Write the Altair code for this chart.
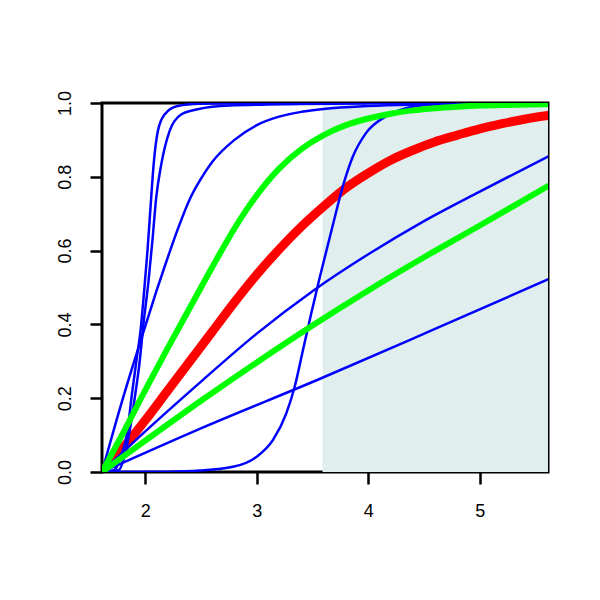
import altair as alt
import pandas as pd

# ---- data ----
x_ticks = [2, 3, 4, 5]
y_ticks = [0.0, 0.2, 0.4, 0.6, 0.8, 1.0]
x_range = [1.612, 5.612]
shade_start, shade_end = 3.59, 5.612

b1_x = [1.612, 1.72, 1.78, 1.84, 1.88, 1.92, 1.96, 1.99, 2.02, 2.053, 2.075, 2.113, 2.173, 2.29, 2.49, 3.0, 5.612]
b1_y = [0, 0.005, 0.04, 0.11, 0.21, 0.30, 0.39, 0.49, 0.60, 0.743, 0.833, 0.924, 0.969, 0.992, 0.998, 1.0, 1.0]

b2_x = [1.612, 1.76, 1.82, 1.87, 1.91, 1.95, 1.98, 2.03, 2.065, 2.098, 2.143, 2.218, 2.322, 2.471, 2.758, 3.385, 4.0, 5.612]
b2_y = [0, 0.005, 0.05, 0.13, 0.21, 0.30, 0.39, 0.52, 0.63, 0.743, 0.833, 0.924, 0.969, 0.983, 0.993, 0.997, 0.999, 1.0]

b3_x = [1.612, 1.8, 2.0, 2.1, 2.2, 2.3, 2.4, 2.5, 2.6, 2.8, 3.0, 3.2, 3.4, 3.6, 4.0, 4.5, 5.0, 5.612]
b3_y = [0, 0.2, 0.395, 0.49, 0.58, 0.665, 0.74, 0.795, 0.84, 0.9, 0.94, 0.963, 0.976, 0.984, 0.992, 0.996, 0.998, 0.999]

b4_x = [1.612, 2.2, 2.49, 2.787, 2.997, 3.146, 3.265, 3.34, 3.414, 3.489, 3.563, 3.683, 3.772, 3.862, 3.981, 4.16, 4.34, 4.575, 5.0, 5.612]
b4_y = [0, 0.001, 0.004, 0.014, 0.041, 0.087, 0.159, 0.231, 0.33, 0.43, 0.525, 0.67, 0.774, 0.855, 0.919, 0.964, 0.986, 0.995, 0.999, 1.0]

b5_x = [1.612, 2.0, 2.5, 3.0, 3.5, 4.0, 4.5, 5.0, 5.612]
b5_y = [0, 0.11, 0.245, 0.375, 0.49, 0.59, 0.68, 0.76, 0.855]

b6_x = [1.612, 2.489, 3.563, 4.578, 5.612]
b6_y = [0, 0.117, 0.252, 0.385, 0.522]

g1_x = [1.612, 1.8, 2.0, 2.2, 2.4, 2.6, 2.8, 3.0, 3.2, 3.4, 3.6, 3.8, 4.0, 4.2, 4.4, 4.6, 4.8, 5.0, 5.3, 5.612]
g1_y = [0, 0.105, 0.222, 0.335, 0.445, 0.555, 0.66, 0.75, 0.822, 0.875, 0.913, 0.94, 0.958, 0.971, 0.98, 0.986, 0.99, 0.993, 0.995, 0.997]

g2_x = [1.612, 2.0, 2.5, 3.0, 3.5, 4.0, 4.5, 5.0, 5.612]
g2_y = [0, 0.085, 0.193, 0.297, 0.397, 0.492, 0.582, 0.668, 0.775]

r_x = [1.612, 1.8, 2.0, 2.2, 2.4, 2.6, 2.8, 3.0, 3.2, 3.4, 3.6, 3.8, 4.0, 4.2, 4.4, 4.6, 4.8, 5.0, 5.2, 5.4, 5.612]
r_y = [0, 0.065, 0.14, 0.22, 0.30, 0.38, 0.46, 0.535, 0.603, 0.665, 0.72, 0.77, 0.81, 0.845, 0.872, 0.895, 0.913, 0.93, 0.944, 0.956, 0.966]


def frame(name, xs, ys):
    return pd.DataFrame({"x": xs, "y": ys, "curve": name})


blue_df = pd.concat([
    frame("b1", b1_x, b1_y), frame("b2", b2_x, b2_y), frame("b3", b3_x, b3_y),
    frame("b4", b4_x, b4_y), frame("b5", b5_x, b5_y), frame("b6", b6_x, b6_y),
])
green_df = pd.concat([frame("g1", g1_x, g1_y), frame("g2", g2_x, g2_y)])
red_df = frame("r", r_x, r_y)
shade_df = pd.DataFrame({"x": [shade_start], "x2": [shade_end], "y": [0.0], "y2": [1.0]})

FONT = "Liberation Sans"
xs = alt.Scale(domain=x_range, nice=False, zero=False)
ys = alt.Scale(domain=[0, 1], nice=False, zero=False)
x_axis = alt.Axis(values=x_ticks, format="d", domain=False, grid=False, tickSize=12,
                  tickWidth=2.5, tickColor="black", labelFont=FONT, labelFontSize=18,
                  labelColor="black", labelPadding=18, title=None)
y_axis = alt.Axis(values=y_ticks, format=".1f", domain=False, grid=False, tickSize=12,
                  tickWidth=2.5, tickColor="black", labelFont=FONT, labelFontSize=18,
                  labelColor="black", labelAngle=270, labelPadding=16, title=None)

shade = alt.Chart(shade_df).mark_rect(color="#E0EEEE").encode(
    x=alt.X("x:Q", scale=xs, axis=x_axis), x2="x2:Q",
    y=alt.Y("y:Q", scale=ys, axis=y_axis), y2="y2:Q",
)

def lines(df, color, width):
    return alt.Chart(df).mark_line(color=color, strokeWidth=width, interpolate="monotone",
                                   clip=True, strokeCap="round", strokeJoin="round").encode(
        x=alt.X("x:Q", scale=xs), y=alt.Y("y:Q", scale=ys), detail="curve:N")

chart = alt.layer(
    shade,
    lines(red_df, "#FF0000", 9),
    lines(blue_df, "#0000FF", 2.5),
    lines(green_df, "#00FF00", 6),
).properties(
    width=446, height=369,
    autosize=alt.AutoSizeParams(type="none"),
    padding={"left": 94, "top": 95, "right": 40, "bottom": 100},
).configure_view(stroke="black", strokeWidth=3)

chart.save("out.html", embed_options={"renderer": "svg", "actions": False})
